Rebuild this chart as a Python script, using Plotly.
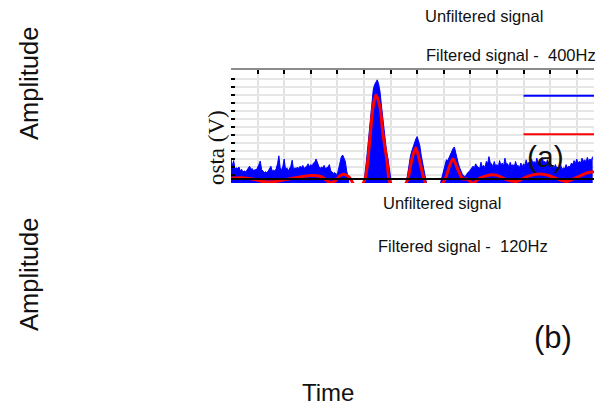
import plotly.graph_objects as go

# ---- data (x in grid units, y in grid units) ----
blue_t = [round(i * 0.1, 2) for i in range(137)]
blue_v = [2.5, 2.3, 1.4, 1.5, 1.2, 1.0, 1.1, 1.6, 1.3, 1.2,
          1.4, 2.25, 1.0, 0.9, 1.0, 1.6, 1.1, 1.3, 2.9, 1.1,
          2.5, 1.4, 1.3, 2.35, 1.4, 1.5, 1.6, 1.7, 1.5, 1.9,
          1.8, 2.0, 2.5, 1.6, 1.5, 1.7, 1.4, 1.8, 0.9, 0.8,
          0.6, 2.4, 3.0, 2.2, 0.3, -1, -1, -1, -1, -1,
          -0.5, 2.5, 6.0, 10.0, 11.8, 12.4, 11.0, 7.8, 4.5, 2.6,
          0.1, -1, -1, -1, -1, -1, -0.3, 2.0, 3.5, 4.6,
          5.3, 4.2, 2.0, 0.5, -1, -1, -1, -1, -1, -0.2,
          1.0, 2.4, 2.7, 3.4, 4.0, 2.6, 1.4, 0.6, 0.3, 0.8,
          1.1, 1.6, 1.9, 1.5, 2.1, 1.7, 2.2, 2.8, 1.9, 2.2,
          1.8, 2.3, 2.0, 2.6, 1.9, 2.1, 1.8, 2.2, 1.7, 2.0,
          1.9, 2.4, 2.1, 2.5, 2.2, 2.6, 2.3, 2.7, 2.2, 2.4,
          1.9, 1.6, 1.8, 1.5, 1.7, 1.4, 1.8, 1.6, 2.0, 2.3,
          2.5, 2.2, 2.6, 2.4, 2.7, 2.5, 2.8]
# values read half-way between the samples above (noise troughs)
blue_mid_t = [round(i * 0.1 + 0.05, 2) for i in range(136)]
blue_mid_v = [1.6, 1.2, 1.3, 1.0, 0.9, 0.9, 1.3, 1.2, 1.0, 1.1,
              1.8, 1.2, 0.8, 0.8, 1.3, 1.0, 1.0, 1.9, 1.4, 1.6,
              1.2, 1.0, 1.6, 1.2, 1.3, 1.3, 1.4, 1.3, 1.6, 1.5,
              1.6, 2.1, 1.9, 1.3, 1.4, 1.3, 1.5, 1.0, 0.7, 0.6,
              1.5, 2.8, 2.6, 1.0, -1, -1, -1, -1, -1, -1,
              0.8, 4.2, 8.2, 11.2, 12.1, 11.9, 9.4, 6.0, 3.4, 1.2,
              -1, -1, -1, -1, -1, -1, 0.8, 2.9, 4.1, 5.0,
              4.8, 3.0, 1.2, -0.5, -1, -1, -1, -1, -1, 0.4,
              1.8, 2.3, 3.0, 3.8, 3.2, 1.9, 0.9, 0.4, 0.5, 0.9,
              1.3, 1.4, 1.6, 1.3, 1.5, 1.4, 1.9, 2.0, 1.5, 1.6,
              1.5, 1.7, 1.6, 1.9, 1.5, 1.6, 1.5, 1.6, 1.4, 1.5,
              1.7, 1.8, 1.9, 2.0, 1.9, 2.0, 2.0, 2.1, 1.9, 1.8,
              1.4, 1.4, 1.3, 1.3, 1.2, 1.3, 1.4, 1.5, 1.8, 1.9,
              2.0, 2.0, 2.2, 2.1, 2.2, 2.3]

red_t = [0, 0.4, 0.8, 1.2, 1.6, 2.0, 2.5, 3.0, 3.4, 3.7, 3.9, 4.1, 4.25, 4.45,
         4.65, 4.85, 5.04, 5.23, 5.34, 5.45, 5.60, 5.71, 5.86, 5.94, 6.1, 6.3,
         6.5, 6.65, 6.80, 6.95, 7.11, 7.26, 7.45, 7.7, 8.05, 8.23, 8.35, 8.54,
         8.72, 8.87, 9.1, 9.36, 9.74, 10.0, 10.38, 10.75, 11.13, 11.5, 11.88,
         12.37, 12.63, 13.0, 13.38, 13.65]
red_v = [0.1, 0.15, 0.0, -0.3, -0.35, -0.1, 0.2, 0.45, 0.3, -0.4, -0.3, 0.4, 0.6, 0.2,
         -0.8, -1.0, 0.0, 5.3, 9.0, 10.5, 9.0, 5.7, 2.4, 0.0, -1.5, -2.0,
         -1.0, 0.0, 2.4, 3.9, 2.0, 0.0, -1.5, -1.5, 0.0, 1.75, 2.5, 1.1,
         0.0, 0.0, -0.5, 0.1, 0.5, 0.45, -0.1, -0.3, 0.3, 0.6, 0.5,
         -0.1, -0.3, 0.2, 0.75, 0.9]

legend_blue_level = 10.4
legend_red_level = 5.6
legend_start = 11.0

x_ticks = list(range(1, 14))
y_ticks = [k + 0.5 for k in range(13)]

SANS = "Liberation Sans, Arial, sans-serif"
SERIF = "Liberation Serif, Times New Roman, serif"

# merge the two sets of blue samples in time order
blue_pts = sorted(zip(blue_t + blue_mid_t, blue_v + blue_mid_v))
bx = [p[0] for p in blue_pts]
by = [p[1] for p in blue_pts]

fig = go.Figure()
fig.add_trace(go.Scatter(x=bx, y=[-1] * len(bx), mode="lines",
                         line=dict(width=0, color="rgba(0,0,0,0)"), showlegend=False,
                         hoverinfo="skip"))
fig.add_trace(go.Scatter(x=bx, y=by, mode="lines", fill="tonexty",
                         fillcolor="#0000ff", line=dict(color="#0000ff", width=1),
                         showlegend=False))
fig.add_trace(go.Scatter(x=red_t, y=red_v, mode="lines",
                         line=dict(color="#ff0000", width=3, shape="spline", smoothing=0.8),
                         showlegend=False))

shapes = [
    dict(type="line", xref="x domain", yref="y", x0=0, x1=1, y0=0, y1=0,
         line=dict(color="black", width=2)),
    dict(type="line", xref="x", yref="y", x0=legend_start, x1=13.65,
         y0=legend_blue_level, y1=legend_blue_level, line=dict(color="#0000ff", width=2)),
    dict(type="line", xref="x", yref="y", x0=legend_start, x1=13.65,
         y0=legend_red_level, y1=legend_red_level, line=dict(color="#ff0000", width=2)),
]

annotations = []
def add(text, xp, yp, size, family=SANS, angle=0):
    # convert a pixel position of the reference into paper coordinates
    xr = (xp - 231) / (594 - 231)
    yr = (183 - yp) / (183 - 70)
    annotations.append(dict(text=text, x=xr, y=yr, xref="paper", yref="paper",
                            showarrow=False, textangle=angle,
                            xanchor="center", yanchor="middle",
                            font=dict(size=size, family=family, color="#111111")))

add("Unfiltered signal", 484, 16, 16.5)
add("Filtered signal -&nbsp; 400Hz", 511, 55, 16.5)
add("Unfiltered signal", 441.5, 203, 16.5)
add("Filtered signal -&nbsp; 120Hz", 463, 246, 16.5)
add("Amplitude", 29, 84, 25.5, angle=-90)
add("Amplitude", 29, 275, 25.5, angle=-90)
add("Time", 328, 392, 24)
add("(a)", 545.5, 156, 30)
add("(b)", 552.5, 337, 31)
add("osta (V)", 216, 148, 23, family=SERIF, angle=-90)

fig.update_layout(
    width=611, height=406,
    margin=dict(l=231, r=17, t=70, b=223, pad=0),
    paper_bgcolor="white", plot_bgcolor="white",
    showlegend=False,
    shapes=shapes,
    annotations=annotations,
    xaxis=dict(range=[0, 13.65], side="top", tickvals=x_ticks, showticklabels=False,
               ticks="inside", ticklen=4, tickwidth=1.5, tickcolor="black",
               showgrid=True, gridcolor="#e2e2e2", gridwidth=1.5,
               showline=True, linecolor="#8c8c8c", linewidth=2, zeroline=False),
    yaxis=dict(range=[-0.5, 13.625], tickvals=y_ticks, showticklabels=False,
               ticks="inside", ticklen=4, tickwidth=1.5, tickcolor="black",
               showgrid=True, gridcolor="#e6e6e6", gridwidth=1.5,
               showline=False, zeroline=False),
)

fig.write_html("out.html")
